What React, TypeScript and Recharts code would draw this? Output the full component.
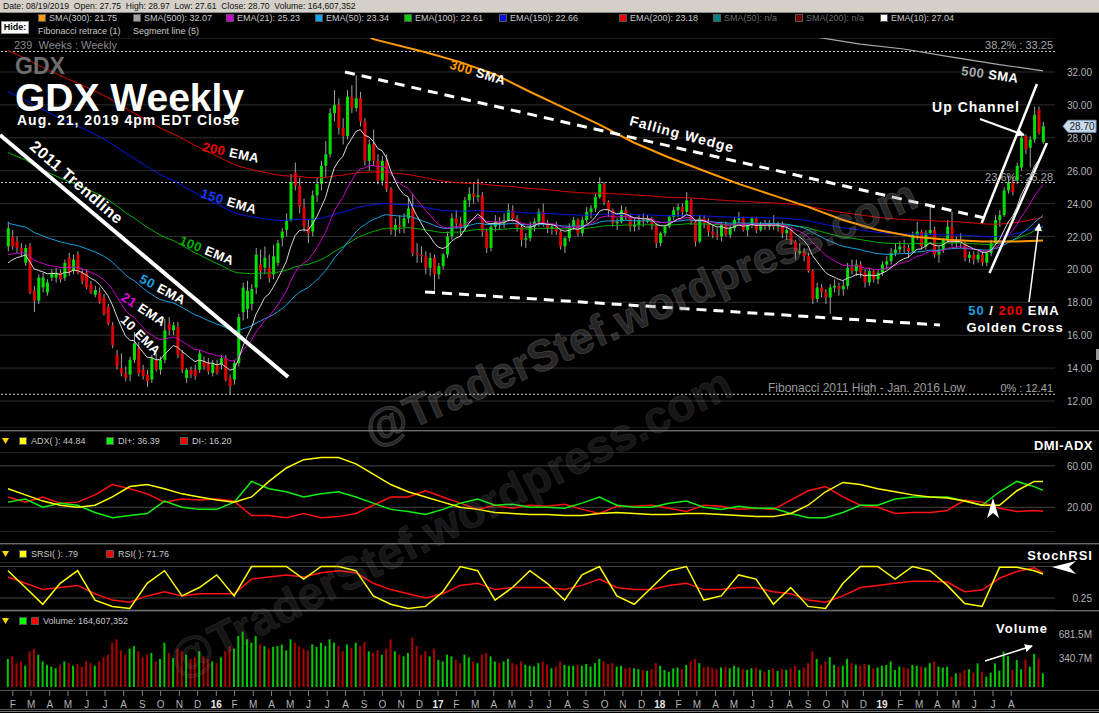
import React from "react";
import {
  ComposedChart, Bar, Line, XAxis, YAxis, CartesianGrid, ReferenceLine, Cell,
} from "recharts";

const FONT = "'Liberation Sans', Arial, sans-serif";
const CANDLE_UP = "#00e000";
const CANDLE_DOWN = "#e00000";

// weekly candles [open, high, low, close]; week 0 = Jan 26 2015, week 238 = Aug 19 2019
const candles: [number, number, number, number][] = [
  [21.4, 22.9, 21.1, 22.5], [22.0, 22.4, 21.2, 21.4], [21.7, 22.0, 21.0, 21.3], [21.3, 21.6, 20.8, 21.1], [20.4, 21.5, 20.2, 21.3],
  [21.4, 21.6, 18.5, 18.6], [18.7, 19.0, 17.4, 18.1], [18.1, 19.7, 17.9, 19.5], [18.9, 19.8, 18.6, 19.5], [18.6, 19.4, 18.4, 19.2],
  [19.5, 20.0, 19.3, 19.8], [19.5, 20.1, 19.2, 19.8], [19.8, 20.0, 19.2, 19.4], [19.5, 20.6, 19.3, 20.4], [20.7, 21.0, 19.6, 19.8],
  [19.9, 20.9, 19.7, 20.6], [20.9, 21.1, 19.7, 19.8], [19.8, 20.0, 19.1, 19.3], [19.8, 20.0, 18.8, 18.9], [19.1, 19.3, 18.5, 18.6],
  [18.45, 19.0, 18.3, 18.75], [18.6, 18.9, 17.9, 18.0], [18.3, 18.5, 17.2, 17.3], [17.7, 17.9, 16.6, 16.7], [16.6, 16.8, 15.2, 15.4],
  [14.8, 15.1, 13.9, 14.1], [14.0, 14.9, 13.5, 13.7], [13.7, 14.1, 13.2, 13.4], [13.6, 14.7, 13.2, 14.5], [14.5, 16.2, 14.3, 15.5],
  [15.2, 15.6, 13.5, 13.7], [13.9, 14.2, 13.3, 13.5], [13.6, 13.9, 12.85, 13.2], [13.3, 14.8, 13.1, 14.6], [14.5, 14.9, 13.8, 13.9],
  [13.9, 14.7, 13.6, 14.5], [14.5, 17.0, 14.3, 16.3], [16.7, 17.1, 16.0, 16.3], [16.3, 16.8, 16.0, 16.6], [16.5, 16.8, 14.6, 14.8],
  [14.9, 15.1, 13.7, 13.9], [13.4, 14.0, 13.1, 13.9], [13.9, 14.1, 13.4, 13.6], [13.9, 14.2, 13.3, 13.5], [13.9, 15.1, 13.7, 14.9],
  [14.4, 14.7, 13.9, 14.1], [14.3, 14.6, 13.6, 13.8], [13.7, 14.5, 13.5, 14.3], [14.2, 14.5, 13.6, 13.7], [14.2, 14.8, 13.9, 14.6],
  [14.6, 14.8, 13.2, 13.3], [13.4, 13.6, 12.41, 12.9], [13.3, 14.5, 13.0, 14.3], [14.3, 17.3, 14.1, 17.1], [17.4, 19.2, 16.9, 18.9],
  [17.6, 19.3, 17.0, 18.7], [17.9, 19.1, 17.5, 18.8], [18.9, 21.3, 18.5, 20.9], [20.3, 21.2, 19.4, 19.9], [20.1, 21.4, 19.7, 20.7],
  [20.1, 20.9, 19.2, 19.5], [19.7, 21.5, 19.4, 20.8], [20.4, 21.8, 20.2, 21.6], [21.9, 22.5, 21.4, 22.3], [22.4, 23.4, 22.0, 23.0],
  [23.0, 25.8, 22.9, 25.3], [25.9, 26.5, 24.8, 25.1], [25.1, 25.6, 23.4, 23.8], [23.8, 24.3, 22.3, 22.6], [22.6, 23.0, 21.6, 22.2],
  [22.3, 24.8, 22.0, 24.5], [24.5, 25.6, 24.1, 25.2], [25.2, 26.6, 24.8, 26.3], [26.3, 27.8, 25.6, 27.0], [27.0, 29.8, 26.8, 29.5],
  [29.5, 30.9, 29.0, 30.0], [30.0, 30.4, 28.2, 28.6], [28.6, 29.2, 27.6, 28.1], [28.1, 30.9, 27.9, 30.5], [30.5, 31.2, 29.5, 29.8],
  [29.8, 31.8, 29.6, 30.4], [30.4, 30.8, 28.7, 29.0], [29.0, 29.2, 26.3, 26.6], [26.6, 27.9, 26.0, 27.6], [27.6, 28.5, 26.3, 26.6],
  [26.6, 27.0, 25.2, 25.4], [25.4, 26.9, 25.1, 26.6], [26.6, 27.0, 24.7, 24.9], [24.9, 25.0, 22.1, 22.4], [22.4, 23.1, 22.0, 22.7],
  [22.7, 23.3, 22.2, 22.6], [22.6, 23.4, 22.2, 23.1], [23.1, 24.3, 22.8, 23.7], [23.7, 24.6, 20.8, 21.0], [21.0, 21.6, 20.4, 20.9],
  [20.9, 21.4, 20.4, 20.8], [20.8, 21.1, 19.7, 20.1], [20.1, 21.0, 19.6, 20.7], [20.7, 20.9, 18.7, 19.7], [19.7, 20.4, 19.4, 20.2],
  [20.2, 21.0, 20.0, 20.9], [20.9, 22.3, 20.7, 22.0], [22.0, 23.4, 21.8, 23.1], [23.1, 23.6, 22.5, 22.8], [22.8, 23.2, 22.0, 22.5],
  [22.5, 24.4, 22.3, 24.2], [24.2, 25.0, 23.8, 24.6], [24.6, 25.2, 24.0, 24.4], [24.4, 25.5, 24.1, 24.5], [24.5, 24.7, 22.0, 22.3],
  [22.3, 22.5, 21.0, 21.3], [21.3, 22.8, 21.1, 22.6], [22.6, 23.3, 22.3, 22.9], [22.9, 23.2, 22.4, 22.8], [22.8, 23.4, 22.5, 23.0],
  [23.0, 24.0, 22.9, 23.6], [23.6, 23.9, 22.9, 23.1], [23.1, 23.3, 22.3, 22.6], [22.6, 22.7, 21.4, 21.8], [21.8, 22.2, 21.3, 21.9],
  [21.9, 22.9, 21.7, 22.6], [22.6, 23.1, 22.3, 22.9], [22.9, 23.7, 22.6, 23.5], [23.5, 24.0, 22.6, 22.8], [22.8, 23.0, 22.2, 22.5],
  [22.5, 22.8, 22.1, 22.6], [22.6, 22.9, 22.1, 22.3], [22.3, 22.4, 21.2, 21.4], [21.4, 22.0, 21.0, 21.9], [21.9, 22.8, 21.7, 22.6],
  [22.6, 23.2, 22.4, 23.0], [23.0, 23.1, 22.0, 22.2], [22.2, 23.2, 22.0, 23.0], [23.0, 23.8, 22.8, 23.5], [23.5, 23.9, 23.1, 23.7],
  [23.7, 24.6, 23.5, 24.4], [24.4, 25.6, 24.3, 25.2], [25.2, 25.3, 23.9, 24.1], [24.1, 24.2, 23.2, 23.6], [23.6, 23.7, 22.6, 22.8],
  [22.8, 23.1, 22.4, 22.9], [22.9, 23.9, 22.8, 23.6], [23.6, 23.8, 23.0, 23.2], [23.2, 23.4, 22.3, 22.6], [22.6, 23.1, 22.3, 22.7],
  [22.7, 23.3, 22.4, 23.0], [23.0, 23.4, 22.6, 22.9], [22.9, 23.3, 22.8, 23.1], [23.1, 23.2, 22.4, 22.7], [22.7, 22.8, 21.3, 21.6],
  [21.6, 22.3, 21.4, 22.2], [22.2, 22.7, 22.0, 22.6], [22.6, 23.3, 22.5, 23.2], [23.2, 23.8, 23.0, 23.6], [23.6, 24.0, 23.2, 23.8],
  [23.8, 24.0, 23.2, 23.5], [23.5, 24.7, 23.4, 24.2], [24.2, 24.3, 22.7, 22.9], [22.9, 23.0, 21.4, 21.7], [21.7, 23.3, 21.6, 23.1],
  [23.1, 23.3, 22.5, 22.8], [22.8, 23.1, 22.0, 22.3], [22.3, 22.7, 21.9, 22.1], [22.1, 22.5, 21.8, 22.0], [22.0, 22.9, 21.7, 22.7],
  [22.7, 22.9, 22.0, 22.1], [22.1, 22.7, 21.9, 22.5], [22.5, 23.2, 22.3, 23.0], [23.0, 23.5, 22.8, 23.1], [23.1, 23.2, 22.3, 22.4],
  [22.4, 22.8, 22.0, 22.7], [22.7, 23.2, 22.5, 23.1], [23.1, 23.2, 22.2, 22.4], [22.4, 22.9, 22.3, 22.8], [22.8, 23.0, 22.4, 22.6],
  [22.6, 23.0, 22.4, 22.8], [22.8, 23.3, 22.4, 22.6], [22.6, 22.9, 22.3, 22.8], [22.8, 22.9, 21.9, 22.2], [22.2, 22.6, 21.8, 22.4],
  [22.4, 22.5, 21.5, 21.7], [21.7, 21.8, 20.6, 21.1], [21.0, 21.6, 20.9, 21.1], [21.1, 21.3, 20.5, 20.8], [20.8, 21.0, 19.8, 19.9],
  [19.9, 20.0, 17.9, 18.2], [18.2, 19.2, 18.0, 18.9], [18.9, 19.1, 18.3, 18.6], [18.6, 18.8, 17.9, 18.3], [18.3, 19.1, 17.3, 18.9],
  [18.9, 19.4, 18.6, 19.0], [19.0, 19.2, 18.4, 18.8], [18.8, 19.3, 18.4, 19.0], [19.0, 20.4, 18.8, 20.1], [20.1, 20.6, 19.7, 19.9],
  [19.9, 20.6, 19.6, 20.3], [20.3, 20.5, 19.5, 19.8], [19.8, 20.0, 18.9, 19.2], [19.2, 20.1, 19.0, 19.9], [19.9, 20.0, 19.2, 19.4],
  [19.4, 20.0, 19.1, 19.8], [19.8, 20.5, 19.6, 20.3], [20.3, 20.8, 20.0, 20.5], [20.5, 21.3, 20.3, 21.0], [21.0, 21.6, 20.8, 21.2],
  [21.2, 21.7, 21.0, 21.4], [21.4, 21.8, 21.0, 21.3], [21.3, 21.5, 20.7, 21.1], [21.1, 22.3, 21.0, 22.1], [22.1, 22.9, 21.8, 22.3],
  [22.3, 22.4, 21.2, 21.4], [21.4, 22.4, 21.2, 22.2], [22.2, 23.8, 22.1, 22.4], [22.4, 22.6, 20.7, 20.9], [20.9, 21.4, 20.4, 21.2],
  [21.2, 21.9, 21.0, 21.8], [21.8, 23.0, 21.6, 22.6], [22.6, 23.5, 21.4, 21.6], [21.6, 22.0, 21.3, 21.8], [21.8, 22.2, 21.3, 21.6],
  [21.6, 21.7, 20.5, 20.7], [20.7, 21.1, 20.4, 20.9], [20.9, 21.1, 20.3, 20.6], [20.6, 21.1, 20.4, 20.9], [20.9, 21.1, 20.2, 20.4],
  [20.4, 21.1, 20.2, 21.0], [21.0, 21.8, 20.8, 21.6], [21.6, 23.3, 21.5, 23.0], [23.0, 23.6, 22.6, 23.3], [23.3, 25.0, 23.2, 24.8],
  [24.8, 25.7, 24.6, 25.3], [25.3, 25.6, 24.5, 24.7], [25.4, 26.5, 25.2, 26.3], [26.2, 28.2, 26.0, 28.0], [28.1, 28.2, 27.0, 27.3],
  [27.4, 28.1, 26.2, 27.9], [27.9, 29.9, 27.7, 29.4], [29.7, 29.9, 28.2, 28.3], [27.75, 28.97, 27.61, 28.70],
];

// weekly volume, millions of shares
const volumes = [
  330, 360, 280, 300, 250, 420, 450, 380, 300, 260,
  240, 220, 260, 300, 280, 250, 270, 240, 300, 280,
  250, 300, 350, 380, 520, 560, 430, 380, 450, 480,
  420, 350, 380, 400, 300, 330, 520, 400, 340, 450,
  420, 380, 330, 350, 420, 360, 330, 300, 280, 350,
  420, 480, 450, 600, 650, 560, 520, 600, 500, 480,
  450, 470, 480, 500, 430, 560, 520, 480, 450, 430,
  500, 470, 520, 480, 560, 520, 480, 420, 500, 460,
  520, 480, 530, 420, 400, 430, 380, 450, 560, 420,
  380, 360, 400, 580, 480, 380, 420, 360, 450, 320,
  300, 380, 360, 320, 280, 380, 350, 300, 280, 380,
  400, 360, 300, 280, 300, 330, 280, 260, 300, 260,
  250, 240, 280, 300, 260, 220, 240, 300, 260, 250,
  250, 260, 250, 270, 240, 280, 330, 300, 270, 280,
  240, 250, 220, 230, 220, 210, 200, 190, 210, 280,
  250, 200, 180, 220, 230, 210, 260, 300, 330, 280,
  230, 240, 220, 210, 230, 240, 220, 250, 230, 210,
  200, 220, 230, 200, 180, 200, 220, 190, 210, 200,
  220, 250, 200, 230, 280, 420, 330, 260, 300, 350,
  260, 240, 250, 330, 280, 260, 250, 270, 260, 220,
  230, 250, 260, 300, 200, 240, 230, 220, 260, 250,
  240, 230, 280, 300, 240, 230, 239, 121, 161, 168,
  200, 208, 168, 278, 180, 121, 168, 278, 192, 415,
  364, 200, 317, 208, 325, 239, 388, 337, 161,
];

// EMA lengths and the value each line shows at the first week (left edge of the chart)
const EMA_PERIODS = [10, 21, 50, 100, 150, 200];
const EMA_START = [20.4, 20.9, 22.8, 27.1, 30.8, 33.3];

// long SMAs at sample weeks
const sma300Weeks = [80, 84, 96, 104, 112, 120, 128, 136, 144, 152, 160, 168, 176, 184, 192, 200, 208, 216, 224, 232, 238];
const sma300Values = [34.6, 34.0, 33.2, 32.6, 31.85, 30.8, 29.8, 28.8, 27.7, 26.8, 26.0, 25.2, 24.5, 23.8, 23.0, 22.4, 22.0, 21.8, 21.7, 21.7, 21.75];
const sma500Weeks = [184, 196, 206, 216, 228, 238];
const sma500Values = [34.2, 33.7, 33.4, 32.95, 32.45, 32.07];

// oscillators sampled every 4 weeks
const oscWeeks = [
  0, 4, 8, 12, 16, 20, 24, 28, 32, 36, 40, 44, 48, 52, 56, 60, 64, 68, 72, 76,
  80, 84, 88, 92, 96, 100, 104, 108, 112, 116, 120, 124, 128, 132, 136, 140, 144, 148, 152, 156,
  160, 164, 168, 172, 176, 180, 184, 188, 192, 196, 200, 204, 208, 212, 216, 220, 224, 228, 232, 236, 238,
];
const adx = [
  38, 32, 26, 22, 20, 22, 30, 40, 42, 38, 33, 30, 27, 25, 30, 45, 58, 66, 68, 68,
  62, 52, 42, 35, 30, 25, 20, 18, 15, 14, 13, 13, 12, 12, 14, 15, 14, 13, 13, 14,
  14, 13, 12, 11, 11, 14, 22, 35, 44, 42, 38, 35, 32, 30, 29, 26, 22, 22, 36, 45, 44.84,
];
const diPlus = [
  25, 28, 20, 24, 22, 15, 10, 12, 14, 26, 20, 18, 18, 25, 45, 38, 35, 30, 33, 35,
  30, 24, 18, 16, 13, 18, 24, 28, 22, 23, 20, 20, 19, 24, 30, 22, 20, 20, 24, 26,
  20, 18, 21, 19, 19, 14, 10, 10, 15, 22, 22, 28, 30, 30, 30, 26, 22, 35, 45, 40, 36.39,
];
const diMinus = [
  30, 25, 30, 24, 25, 32, 42, 38, 33, 25, 28, 27, 28, 26, 12, 12, 10, 14, 10, 11,
  14, 22, 30, 30, 36, 30, 24, 18, 22, 19, 22, 21, 23, 18, 14, 21, 21, 22, 19, 16,
  22, 21, 18, 19, 18, 27, 36, 40, 30, 22, 20, 14, 15, 15, 17, 27, 25, 19, 16, 17, 16.2,
];
const srsi = [
  0.9, 0.5, 0.1, 0.6, 0.9, 0.2, 0.05, 0.0, 0.6, 0.9, 0.3, 0.5, 0.8, 0.3, 1.0, 1.0, 1.0, 0.7, 1.0, 1.0,
  0.9, 0.3, 0.1, 0.0, 0.05, 0.4, 1.0, 0.9, 0.2, 0.5, 0.9, 0.6, 0.2, 0.8, 1.0, 0.3, 0.1, 0.5, 0.9, 1.0,
  0.2, 0.3, 0.8, 0.7, 0.1, 0.5, 0.05, 0.0, 0.6, 1.0, 1.0, 0.7, 1.0, 0.9, 0.55, 0.12, 0.05, 0.98, 0.98, 0.9, 0.82,
];
const rsiLine = [
  0.75, 0.6, 0.45, 0.5, 0.55, 0.35, 0.2, 0.15, 0.3, 0.4, 0.3, 0.35, 0.35, 0.35, 0.7, 0.75, 0.8, 0.75, 0.85, 0.9,
  0.85, 0.6, 0.45, 0.35, 0.25, 0.35, 0.55, 0.6, 0.45, 0.5, 0.5, 0.5, 0.45, 0.55, 0.7, 0.5, 0.45, 0.45, 0.55, 0.6,
  0.45, 0.45, 0.5, 0.5, 0.4, 0.35, 0.2, 0.15, 0.3, 0.5, 0.55, 0.6, 0.65, 0.65, 0.63, 0.4, 0.44, 0.72, 0.88, 0.97, 0.85,
];

// month labels along the time axis and the week each one sits at
const monthLabels = [
  "F", "M", "A", "M", "J", "J", "A", "S", "O", "N", "D", "16",
  "F", "M", "A", "M", "J", "J", "A", "S", "O", "N", "D", "17",
  "F", "M", "A", "M", "J", "J", "A", "S", "O", "N", "D", "18",
  "F", "M", "A", "M", "J", "J", "A", "S", "O", "N", "D", "19",
  "F", "M", "A", "M", "J", "J", "A",
];
const monthTickWeeks = [
  1.1, 5.3, 9.6, 13.8, 18.1, 22.3, 26.6, 30.9, 35.1, 39.4, 43.6, 47.9,
  52.1, 56.4, 60.6, 64.9, 69.1, 73.4, 77.6, 81.9, 86.1, 90.4, 94.6, 98.9,
  103.1, 107.4, 111.7, 115.9, 120.2, 124.4, 128.7, 132.9, 137.2, 141.4, 145.7, 149.9,
  154.2, 158.4, 162.7, 166.9, 171.2, 175.5, 179.7, 184.0, 188.2, 192.5, 196.7, 201.0,
  205.2, 209.5, 213.7, 218.0, 222.2, 226.5, 230.7,
];

const priceTicks = [12, 14, 16, 18, 20, 22, 24, 26, 28, 30, 32];

// hand drawn lines: [week, price] pairs
const trendline2011 = [[-1.84, 28.17], [64.4, 13.46]];
const wedgeTop = [[77.5, 32.0], [224.6, 23.12]];
const wedgeBottom = [[95.9, 18.63], [214.3, 16.62]];
const channelTop = [[223.9, 22.82], [236.6, 31.27]];
const channelBottom = [[225.7, 19.78], [238.9, 27.68]];

// ---------- derived rows ----------
const X_DOMAIN: [number, number] = [-1.84, 240.76];

function ema(values: number[], period: number, start: number) {
  const k = 2 / (period + 1);
  let prev = start;
  return values.map((v, i) => {
    if (i > 0) prev = prev + k * (v - prev);
    return prev;
  });
}

const closes = candles.map((c) => c[3]);
const emaLines = EMA_PERIODS.map((p, j) => ema(closes, p, EMA_START[j]));

const priceData: any[] = candles.map(([o, h, l, c], i) => {
  const row: any = { i, o, h, l, c, range: [l, h] };
  EMA_PERIODS.forEach((p, j) => { row[`ema${p}`] = emaLines[j][i]; });
  return row;
});
sma300Weeks.forEach((w, k) => { priceData[w].sma300 = sma300Values[k]; });
sma500Weeks.forEach((w, k) => { priceData[w].sma500 = sma500Values[k]; });

const volData = candles.map((c, i) => ({ i, vol: volumes[i], up: c[3] >= c[0] }));
const oscData = oscWeeks.map((w, k) => ({
  i: w, adx: adx[k], diPlus: diPlus[k], diMinus: diMinus[k], srsi: srsi[k], rsi: rsiLine[k],
}));

const seg = (pts: number[][]) => pts.map(([x, y]) => ({ x, y }));

// ---------- small render helpers ----------
const Candle = (props: any) => {
  const { x, y, width, height, payload } = props;
  if (x == null || !payload) return <g />;
  const top = Math.min(y, y + height);
  const hh = Math.abs(height);
  const { o, h, l, c } = payload;
  const ppu = hh / Math.max(h - l, 1e-6);
  const bTop = top + (h - Math.max(o, c)) * ppu;
  const bBot = top + (h - Math.min(o, c)) * ppu;
  const cx = x + width / 2;
  return (
    <g>
      <line x1={cx} x2={cx} y1={top} y2={top + hh} stroke="#a0a0a0" strokeWidth={1} />
      <rect x={x} y={bTop} width={width} height={Math.max(bBot - bTop, 1)} fill={c >= o ? CANDLE_UP : CANDLE_DOWN} />
    </g>
  );
};

const AxisTick = (props: any) => {
  const { x, y, payload, fmt, skip } = props;
  if (skip && skip.includes(payload.value)) return <g />;
  return (
    <text x={x + 37} y={y + 4} textAnchor="end" fill="#b4b4b4" fontSize={10} fontFamily={FONT}>
      {fmt(payload.value)}
    </text>
  );
};

const MonthTick = (props: any) => {
  const { x, y, payload } = props;
  const label = monthLabels[payload.index];
  const isYear = /\d/.test(label);
  return (
    <g>
      <line x1={x} x2={x} y1={y + 4} y2={y + 9} stroke="#808080" />
      <text x={x} y={y + 21} textAnchor="middle" fontSize={10} fontFamily={FONT}
        fill={isYear ? "#e8e8e8" : "#b4b4b4"} fontWeight={isYear ? "bold" : "normal"}>
        {label}
      </text>
    </g>
  );
};

const PriceTag = (props: any) => {
  const { viewBox, text } = props;
  if (!viewBox) return null;
  const left = viewBox.x + viewBox.width + 8;
  const y = viewBox.y;
  return (
    <g>
      <polygon points={`${left},${y} ${left + 5},${y - 6} ${left + 33},${y - 6} ${left + 33},${y + 6} ${left + 5},${y + 6}`}
        fill="#c8dbee" stroke="#7f9fc2" />
      <text x={left + 19} y={y + 4} textAnchor="middle" fontSize={10} fontFamily={FONT} fill="#202020">{text}</text>
    </g>
  );
};

const Tag = ({ x, y, angle = 0, size = 13, parts, spacing = 0.5, anchor = "middle" }: any) => (
  <text transform={`translate(${x},${y}) rotate(${angle})`} textAnchor={anchor} dominantBaseline="central"
    fontSize={size} fontWeight="bold" fontFamily={FONT} letterSpacing={spacing}>
    {parts.map(([t, col]: [string, string], k: number) => <tspan key={k} fill={col}>{t}</tspan>)}
  </text>
);

const legendItems = [
  { x: 38, color: "#ff9900", text: "SMA(300): 21.75" },
  { x: 133, color: "#a0a0a0", text: "SMA(500): 32.07" },
  { x: 226, color: "#d000d0", text: "EMA(21): 25.23" },
  { x: 315, color: "#10a8f0", text: "EMA(50): 23.34" },
  { x: 404, color: "#00d000", text: "EMA(100): 22.61" },
  { x: 499, color: "#0010e0", text: "EMA(150): 22.66" },
  { x: 619, color: "#f00000", text: "EMA(200): 23.18" },
  { x: 713, color: "#008080", text: "SMA(50): n/a", dim: true },
  { x: 795, color: "#700000", text: "SMA(200): n/a", dim: true },
  { x: 880, color: "#ffffff", text: "EMA(10): 27.04" },
];

const hLine = (top: number, color: string, h = 1) => (
  <div style={{ position: "absolute", left: 0, top, width: 1099, height: h, background: color }} />
);

const small: React.CSSProperties = {
  position: "absolute", fontSize: 9, fontFamily: FONT, color: "#c8c8c8", whiteSpace: "nowrap", lineHeight: "10px",
};

const Square = ({ x, y, color }: any) => (
  <div style={{ position: "absolute", left: x, top: y, width: 6, height: 6, background: color, border: "1px solid #555" }} />
);

const PanelHeader = ({ y, items }: any) => (
  <>
    <svg style={{ position: "absolute", left: 2, top: y - 3 }} width={8} height={6}>
      <polygon points="0,0 7,0 3.5,6" fill="#ffd800" />
    </svg>
    {items.map((it: any, k: number) => (
      <React.Fragment key={k}>
        {it.color && <Square x={it.x} y={y - 4} color={it.color} />}
        {it.text && <div style={{ ...small, left: it.tx, top: y - 5 }}>{it.text}</div>}
      </React.Fragment>
    ))}
  </>
);

const lineProps = { dot: false, activeDot: false, isAnimationActive: false, type: "linear" as const };
const fibLabel = (value: string) => ({
  value, position: "insideBottomRight" as const, offset: 2, fill: "#a8a8a8", fontSize: 11, fontFamily: FONT,
});

export default function App() {
  const lastClose = candles[candles.length - 1][3];

  return (
    <div style={{ position: "absolute", left: 0, top: 0, width: 1099, height: 713, background: "#000", overflow: "hidden", fontFamily: FONT }}>
      {/* status strip */}
      <div style={{ position: "absolute", left: 0, top: 0, width: 1099, height: 12, background: "#d4d0c8", borderBottom: "1px solid #8a8a8a" }}>
        <div style={{ ...small, fontSize: 8.6, color: "#111", left: 3, top: 1 }}>
          Date: 08/19/2019&nbsp; Open: 27.75&nbsp; High: 28.97&nbsp; Low: 27.61&nbsp; Close: 28.70&nbsp; Volume: 164,607,352
        </div>
      </div>

      {/* indicator legend */}
      <div style={{ position: "absolute", left: 1, top: 21, width: 26, height: 11, background: "#fff", border: "1px solid #999",
        fontSize: 9, fontWeight: "bold", color: "#000", textAlign: "center", lineHeight: "11px" }}>Hide:</div>
      {legendItems.map((it) => (
        <React.Fragment key={it.text}>
          <Square x={it.x} y={14} color={it.color} />
          <div style={{ ...small, left: it.x + 11, top: 13, color: it.dim ? "#6a6a6a" : "#c8c8c8" }}>{it.text}</div>
        </React.Fragment>
      ))}
      <div style={{ ...small, left: 38, top: 26 }}>Fibonacci retrace (1)</div>
      <div style={{ ...small, left: 133, top: 26 }}>Segment line (5)</div>

      {/* price panel */}
      <div style={{ position: "absolute", left: 0, top: 38 }}>
        <ComposedChart width={1099} height={390} data={priceData} margin={{ top: 0, right: 0, bottom: 0, left: 0 }}>
          <CartesianGrid vertical={false} stroke="#303030" />
          <XAxis type="number" dataKey="i" domain={X_DOMAIN} hide allowDataOverflow />
          <YAxis orientation="right" width={44} domain={[10.359, 34.067]} ticks={priceTicks} allowDataOverflow
            axisLine={false} tickLine={false} tickSize={0} tickMargin={0}
            tick={<AxisTick fmt={(v: number) => v.toFixed(2)} />} />
          <ReferenceLine y={33.25} stroke="#d0d0d0" strokeDasharray="2 2" ifOverflow="visible" label={fibLabel("38.2% : 33.25")} />
          <ReferenceLine y={25.28} stroke="#d0d0d0" strokeDasharray="2 2" ifOverflow="visible" label={fibLabel("23.6% : 25.28")} />
          <ReferenceLine y={12.41} stroke="#d0d0d0" strokeDasharray="2 2" ifOverflow="visible" label={fibLabel("0% : 12.41")} />
          <Line dataKey="sma500" stroke="#a8a8a8" strokeWidth={1.2} connectNulls {...lineProps} />
          <Line dataKey="ema200" stroke="#e00000" strokeWidth={1} {...lineProps} />
          <Line dataKey="ema150" stroke="#0018e8" strokeWidth={1} {...lineProps} />
          <Line dataKey="ema100" stroke="#00b000" strokeWidth={1} {...lineProps} />
          <Line dataKey="ema50" stroke="#18a0e0" strokeWidth={1} {...lineProps} />
          <Line dataKey="sma300" stroke="#ff9900" strokeWidth={2} connectNulls {...lineProps} />
          <Bar dataKey="range" barSize={3} shape={<Candle />} isAnimationActive={false} />
          <Line dataKey="ema21" stroke="#c800c8" strokeWidth={1} {...lineProps} />
          <Line dataKey="ema10" stroke="#d8d8d8" strokeWidth={1} {...lineProps} />
          <ReferenceLine segment={seg(trendline2011)} stroke="#ffffff" strokeWidth={4} ifOverflow="visible" />
          <ReferenceLine segment={seg(wedgeTop)} stroke="#ffffff" strokeWidth={3} strokeDasharray="10 7" ifOverflow="visible" />
          <ReferenceLine segment={seg(wedgeBottom)} stroke="#ffffff" strokeWidth={3} strokeDasharray="10 7" ifOverflow="visible" />
          <ReferenceLine segment={seg(channelTop)} stroke="#ffffff" strokeWidth={2.5} ifOverflow="visible" />
          <ReferenceLine segment={seg(channelBottom)} stroke="#ffffff" strokeWidth={2.5} ifOverflow="visible" />
          <ReferenceLine y={lastClose} stroke="none" ifOverflow="visible" label={<PriceTag text={lastClose.toFixed(2)} />} />
        </ComposedChart>
      </div>

      {hLine(430, "#6a6a6a")}{hLine(431, "#2a2a2a")}

      {/* DMI-ADX */}
      <PanelHeader y={441} items={[
        { x: 19, color: "#ffff00", tx: 31, text: "ADX(  ): 44.84" },
        { x: 106, color: "#00ff00", tx: 118, text: "DI+: 36.39" },
        { x: 180, color: "#ff0000", tx: 192, text: "DI-: 16.20" },
      ]} />
      <div style={{ position: "absolute", left: 0, top: 452 }}>
        <ComposedChart width={1099} height={80} data={oscData} margin={{ top: 0, right: 0, bottom: 0, left: 0 }}>
          <CartesianGrid vertical={false} stroke="#444" />
          <XAxis type="number" dataKey="i" domain={X_DOMAIN} hide allowDataOverflow />
          <YAxis orientation="right" width={44} domain={[-3.865, 73.43]} ticks={[0, 20, 40, 60]} allowDataOverflow
            axisLine={false} tickLine={false} tickSize={0} tickMargin={0}
            tick={<AxisTick skip={[0]} fmt={(v: number) => v.toFixed(2)} />} />
          <Line dataKey="diMinus" stroke="#ff1010" strokeWidth={1.5} {...lineProps} />
          <Line dataKey="diPlus" stroke="#10f010" strokeWidth={1.5} {...lineProps} />
          <Line dataKey="adx" stroke="#ffff00" strokeWidth={1.5} {...lineProps} />
        </ComposedChart>
      </div>

      {hLine(543, "#6a6a6a")}{hLine(544, "#2a2a2a")}

      {/* StochRSI */}
      <PanelHeader y={554} items={[
        { x: 19, color: "#ffff00", tx: 31, text: "SRSI(    ): .79" },
        { x: 106, color: "#ff0000", tx: 118, text: "RSI(    ): 71.76" },
      ]} />
      <div style={{ position: "absolute", left: 0, top: 562 }}>
        <ComposedChart width={1099} height={48} data={oscData} margin={{ top: 0, right: 0, bottom: 0, left: 0 }}>
          <CartesianGrid vertical={false} stroke="#444" />
          <XAxis type="number" dataKey="i" domain={X_DOMAIN} hide allowDataOverflow />
          <YAxis orientation="right" width={44} domain={[-0.0357, 1.107]} ticks={[0.25, 0.5, 0.75, 1]} allowDataOverflow
            axisLine={false} tickLine={false} tickSize={0} tickMargin={0}
            tick={<AxisTick skip={[0.5, 1]} fmt={(v: number) => v.toFixed(2)} />} />
          <Line dataKey="rsi" stroke="#ff1010" strokeWidth={1.5} {...lineProps} />
          <Line dataKey="srsi" stroke="#ffff00" strokeWidth={1.5} {...lineProps} />
        </ComposedChart>
      </div>

      {hLine(610, "#6a6a6a")}{hLine(611, "#2a2a2a")}

      {/* Volume + time axis */}
      <PanelHeader y={621} items={[
        { x: 19, color: "#00ff00" },
        { x: 31, color: "#ff0000", tx: 43, text: "Volume: 164,607,352" },
      ]} />
      <div style={{ position: "absolute", left: 0, top: 625 }}>
        <ComposedChart width={1099} height={88} data={volData} margin={{ top: 0, right: 0, bottom: 0, left: 0 }}>
          <XAxis type="number" dataKey="i" domain={X_DOMAIN} allowDataOverflow ticks={monthTickWeeks} interval={0}
            height={26} axisLine={false} tickLine={false} tickSize={0} tickMargin={0} tick={<MonthTick />} />
          <YAxis orientation="right" width={44} domain={[0, 728.5]} ticks={[340.7, 681.5]} allowDataOverflow
            axisLine={false} tickLine={false} tickSize={0} tickMargin={0}
            tick={<AxisTick fmt={(v: number) => v.toFixed(1) + "M"} />} />
          <Bar dataKey="vol" barSize={2} isAnimationActive={false}>
            {volData.map((d) => <Cell key={d.i} fill={d.up ? "#00c800" : "#b00000"} />)}
          </Bar>
        </ComposedChart>
      </div>

      {hLine(690, "#555")}
      {hLine(709, "#555")}{hLine(711, "#777")}
      <div style={{ position: "absolute", left: 1096, top: 349, width: 3, height: 11, background: "#9a9a9a" }} />

      {/* annotations */}
      <svg width={1099} height={713} style={{ position: "absolute", left: 0, top: 0, pointerEvents: "none" }}>
        <defs>
          <marker id="ah" markerWidth="8" markerHeight="8" refX="7" refY="4" orient="auto" markerUnits="userSpaceOnUse">
            <path d="M0,0 L8,4 L0,8 z" fill="#fff" />
          </marker>
        </defs>

        {/* watermarks */}
        <text transform="translate(640,312) rotate(-23.7)" textAnchor="middle" dominantBaseline="central"
          fontSize={44} fontWeight="bold" fontFamily={FONT} fill="rgba(120,120,120,0.33)" stroke="rgba(170,170,170,0.25)">
          @TraderStef.wordpress.com
        </text>
        <text transform="translate(450,522) rotate(-27)" textAnchor="middle" dominantBaseline="central"
          fontSize={46} fontWeight="bold" fontFamily={FONT} fill="rgba(120,120,120,0.2)" stroke="rgba(170,170,170,0.12)">
          @TraderStef.wordpress.com
        </text>

        <text x={14} y={49} fontSize={11} fill="#8a8a8a" fontFamily={FONT}>239&nbsp; Weeks : Weekly</text>
        <text x={15} y={74} fontSize={23} fontWeight="bold" fill="#6e6e6e" fontFamily={FONT}>GDX</text>
        <text x={15} y={111} fontSize={39} fontWeight="bold" fill="#ffffff" fontFamily={FONT}>GDX Weekly</text>
        <text x={17} y={125} fontSize={14} fontWeight="bold" fill="#ffffff" fontFamily={FONT} letterSpacing={1}>Aug. 21, 2019 4pm EDT Close</text>

        <Tag x={77} y={182} angle={41} size={16} parts={[["2011 Trendline", "#fff"]]} />
        <Tag x={231} y={152} angle={12} parts={[["200 ", "#f00000"], ["EMA", "#fff"]]} />
        <Tag x={229} y={201} angle={17} parts={[["150 ", "#1a3cff"], ["EMA", "#fff"]]} />
        <Tag x={207} y={250} angle={22} parts={[["100 ", "#00b000"], ["EMA", "#fff"]]} />
        <Tag x={163} y={289} angle={28} parts={[["50 ", "#18a0e0"], ["EMA", "#fff"]]} />
        <Tag x={144} y={309} angle={33} parts={[["21 ", "#e000e0"], ["EMA", "#fff"]]} />
        <Tag x={141} y={335} angle={45} parts={[["10 ", "#fff"], ["EMA", "#fff"]]} />
        <Tag x={478} y={72} angle={17} parts={[["300 ", "#ff9900"], ["SMA", "#fff"]]} />
        <Tag x={682} y={134} angle={15} size={14} spacing={1} parts={[["Falling Wedge", "#fff"]]} />
        <Tag x={976} y={107} size={14} spacing={1} parts={[["Up Channel", "#fff"]]} />
        <Tag x={990} y={74} angle={8} parts={[["500 ", "#a8a8a8"], ["SMA", "#fff"]]} />
        <Tag x={1014} y={310} size={13} spacing={1} parts={[["50", "#18a0e0"], [" / ", "#fff"], ["200", "#f00000"], [" EMA", "#fff"]]} />
        <Tag x={1015} y={327} size={13} spacing={1} parts={[["Golden Cross", "#fff"]]} />
        <text x={768} y={392} fontSize={12} fill="#9a9a9a" fontFamily={FONT}>Fibonacci 2011 High - Jan. 2016 Low</text>

        <line x1={980} y1={119} x2={1024} y2={135} stroke="#fff" strokeWidth={2} markerEnd="url(#ah)" />
        <line x1={1029} y1={302} x2={1039} y2={224} stroke="#fff" strokeWidth={1.5} markerEnd="url(#ah)" />
        <line x1={985} y1={661} x2={1032} y2={646} stroke="#fff" strokeWidth={1.5} markerEnd="url(#ah)" />
        <polygon points="993,498 987,518 993,513 999,518" fill="#fff" />
        <polygon points="1052,567 1076,561 1069,567 1076,574" fill="#fff" />

        <Tag x={1093} y={445} size={13} spacing={0.5} anchor="end" parts={[["DMI-ADX", "#fff"]]} />
        <Tag x={1093} y={555} size={13} spacing={1} anchor="end" parts={[["StochRSI", "#fff"]]} />
        <Tag x={1048} y={628} size={13} spacing={1} anchor="end" parts={[["Volume", "#fff"]]} />
      </svg>
    </div>
  );
}
